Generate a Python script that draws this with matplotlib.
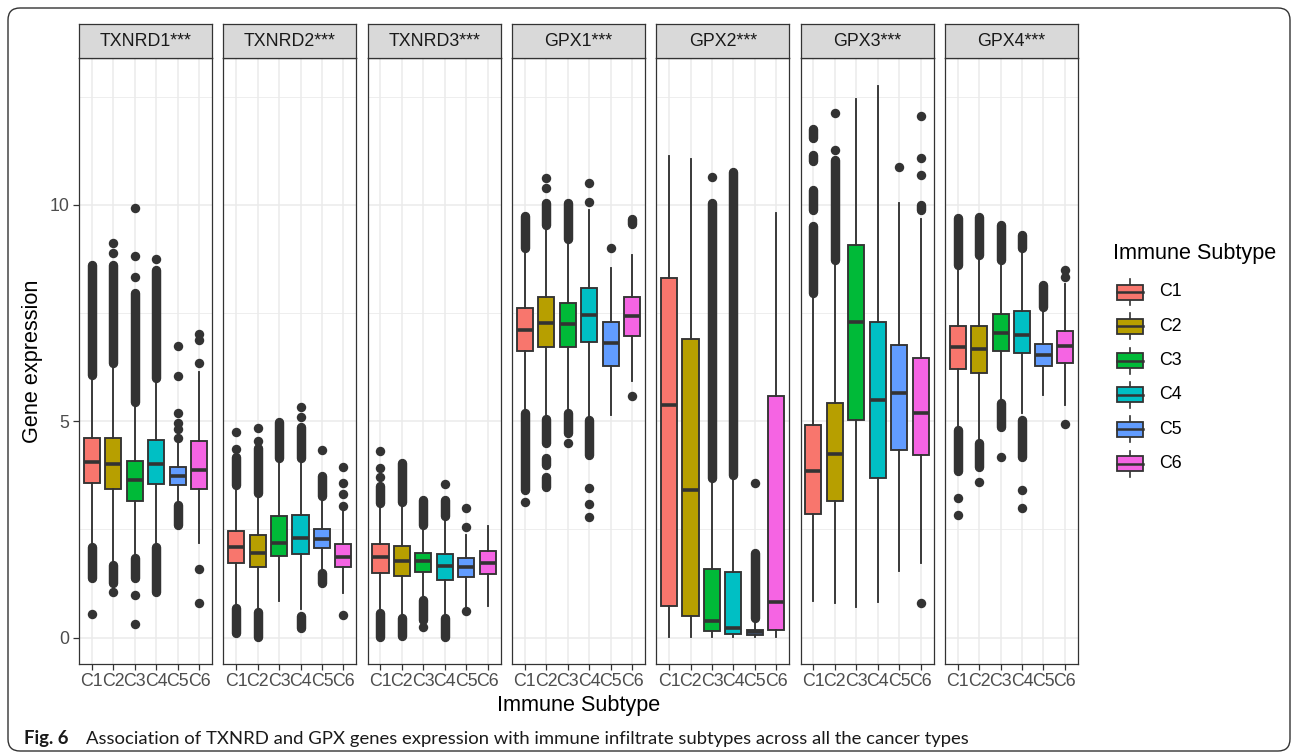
import matplotlib.pyplot as plt
import numpy as np
from matplotlib.patches import FancyBboxPatch, Rectangle

plt.rcParams['font.family'] = ['Liberation Sans', 'DejaVu Sans']

genes = ["TXNRD1***", "TXNRD2***", "TXNRD3***", "GPX1***", "GPX2***", "GPX3***", "GPX4***"]
subtypes = ["C1", "C2", "C3", "C4", "C5", "C6"]
colors = ["#F8766D", "#B79F00", "#00BA38", "#00BFC4", "#619CFF", "#F564E3"]

# box stats, one row per gene, one column per subtype
q1 = [
    [3.57, 3.43, 3.16, 3.55, 3.53, 3.43],
    [1.73, 1.64, 1.89, 1.93, 2.06, 1.62],
    [1.50, 1.43, 1.51, 1.33, 1.39, 1.47],
    [6.62, 6.72, 6.71, 6.84, 6.28, 6.97],
    [0.73, 0.51, 0.16, 0.09, 0.06, 0.18],
    [2.86, 3.16, 5.02, 3.68, 4.33, 4.22],
    [6.20, 6.11, 6.62, 6.57, 6.27, 6.35],
]
med = [
    [4.05, 4.01, 3.63, 4.00, 3.73, 3.87],
    [2.09, 1.96, 2.19, 2.30, 2.27, 1.87],
    [1.87, 1.78, 1.76, 1.66, 1.62, 1.73],
    [7.11, 7.26, 7.24, 7.45, 6.80, 7.44],
    [5.37, 3.41, 0.39, 0.22, 0.12, 0.82],
    [3.84, 4.24, 7.29, 5.50, 5.65, 5.20],
    [6.71, 6.67, 7.04, 6.99, 6.53, 6.74],
]
q3 = [
    [4.60, 4.62, 4.09, 4.57, 3.93, 4.55],
    [2.47, 2.36, 2.81, 2.83, 2.51, 2.16],
    [2.16, 2.12, 1.96, 1.93, 1.85, 1.99],
    [7.61, 7.86, 7.74, 8.07, 7.28, 7.88],
    [8.31, 6.90, 1.59, 1.52, 0.18, 5.59],
    [4.92, 5.41, 9.08, 7.30, 6.77, 6.46],
    [7.20, 7.20, 7.48, 7.54, 6.78, 7.08],
]
whis_lo = [
    [2.10, 1.68, 1.83, 2.10, 3.06, 2.19],
    [0.68, 0.60, 0.85, 0.66, 1.49, 1.04],
    [0.56, 0.45, 0.87, 0.45, 0.68, 0.73],
    [5.18, 5.04, 5.18, 5.03, 5.14, 5.93],
    [0.01, 0.01, 0.02, 0.01, 0.02, 0.01],
    [0.84, 0.81, 0.71, 0.83, 1.55, 1.72],
    [4.80, 4.49, 5.41, 5.20, 5.61, 5.37],
]
whis_hi = [
    [6.07, 6.34, 5.45, 5.99, 4.49, 6.14],
    [3.53, 3.33, 4.14, 4.14, 3.26, 2.95],
    [3.10, 3.14, 2.60, 2.81, 2.37, 2.58],
    [8.99, 9.53, 9.22, 9.88, 8.55, 8.84],
    [11.12, 11.05, 3.68, 3.76, 0.35, 9.80],
    [7.95, 8.73, 12.44, 12.74, 10.03, 9.68],
    [8.61, 8.84, 8.72, 8.99, 7.64, 8.16],
]

# single outliers
flier_points = [
    [[0.54], [8.88, 9.12, 1.05], [8.34, 8.82, 9.92, 0.99, 0.32], [8.75],
     [4.6, 4.83, 4.95, 5.2, 6.04, 6.74], [6.35, 6.87, 7.01, 1.59, 0.79]],
    [[4.35, 4.76], [4.55, 4.84], [], [5.10, 5.32], [4.33], [3.03, 3.32, 3.57, 3.93, 0.52]],
    [[3.72, 3.91, 4.32], [], [0.24], [3.54], [2.56, 2.99, 0.62], []],
    [[3.14], [10.38, 10.61], [4.49], [10.06, 10.51, 3.45, 3.08, 2.78], [9.01], [5.59]],
    [[], [], [10.65], [], [3.57], []],
    [[], [11.26, 12.11], [], [], [10.88], [10.69, 11.08, 12.05, 0.81]],
    [[3.22, 2.83], [3.60], [4.18], [3.41, 2.99], [], [8.32, 8.49, 4.93]],
]
# stretches of overlapping outliers (low, high)
flier_runs = [
    [[(6.07, 8.6), (1.37, 2.1)], [(6.34, 8.6), (1.26, 1.68)], [(5.45, 7.95), (1.37, 1.83)],
     [(5.99, 8.49), (1.06, 2.10)], [(2.6, 3.06)], []],
    [[(3.53, 4.17), (0.10, 0.68)], [(3.33, 4.37), (0.02, 0.60)], [(4.14, 4.97)],
     [(4.14, 4.87), (0.22, 0.49)], [(3.26, 3.74), (1.26, 1.49)], []],
    [[(3.10, 3.50), (0.02, 0.56)], [(3.14, 4.03), (0.04, 0.45)], [(2.60, 3.18), (0.41, 0.87)],
     [(2.81, 3.18), (0.02, 0.45)], [], []],
    [[(8.99, 9.74), (3.41, 5.18)], [(9.53, 10.03), (4.49, 5.04), (3.99, 4.14), (3.49, 3.72)],
     [(9.22, 10.03), (4.72, 5.18)], [(4.22, 5.03)], [], [(9.55, 9.66)]],
    [[], [], [(3.68, 10.05)], [(3.76, 10.76)], [(0.45, 1.96)], []],
    [[(7.95, 9.51), (9.89, 10.34), (11.0, 11.16), (11.54, 11.74)], [(8.73, 11.04)], [], [], [],
     [(9.89, 10.0)]],
    [[(8.61, 9.69), (3.84, 4.80)], [(8.84, 9.72), (3.95, 4.49)], [(8.72, 9.53), (4.87, 5.41)],
     [(8.99, 9.30), (4.18, 5.03)], [(7.64, 8.15)], []],
]

W, H = 1293, 754
fig = plt.figure(figsize=(W / 100, H / 100), dpi=100)


def fr(x, y, w, h):
    return [x / W, 1 - (y + h) / H, w / W, h / H]


dark = '#333333'
dot = 6.8
pos = np.arange(1, 7)

for i, g in enumerate(genes):
    left = 79 + i * 144.3
    ax = fig.add_axes(fr(left, 58, 133, 606))
    ax.set_xlim(0.4, 6.6)
    ax.set_ylim(-0.61, 13.39)
    ax.set_axisbelow(True)
    ax.set_yticks([0, 5, 10])
    ax.set_yticks([2.5, 7.5, 12.5], minor=True)
    ax.grid(which='major', color='#EBEBEB', lw=1.1)
    ax.grid(which='minor', axis='y', color='#EBEBEB', lw=0.6)
    ax.tick_params(which='minor', length=0)

    stats = []
    for j in range(6):
        stats.append(dict(med=med[i][j], q1=q1[i][j], q3=q3[i][j],
                          whislo=whis_lo[i][j], whishi=whis_hi[i][j],
                          fliers=flier_points[i][j]))
    bp = ax.bxp(stats, positions=pos, widths=0.75, patch_artist=True, showcaps=False,
                boxprops=dict(edgecolor=dark, lw=1.35),
                whiskerprops=dict(color=dark, lw=1.35),
                medianprops=dict(color=dark, lw=2.6),
                flierprops=dict(marker='o', markerfacecolor=dark, markeredgecolor='none',
                                markersize=dot))
    for patch, c in zip(bp['boxes'], colors):
        patch.set_facecolor(c)
    for j in range(6):
        runs = flier_runs[i][j]
        if runs:
            ax.vlines([pos[j]] * len(runs), [r[0] for r in runs], [r[1] for r in runs],
                      colors=dark, lw=dot, capstyle='round', zorder=3)

    ax.set_xticks(pos)
    ax.set_xticklabels(subtypes)
    ax.tick_params(axis='both', which='major', length=4.3, width=0.9, color=dark,
                   labelsize=12.8, labelcolor='#4D4D4D', pad=2.5)
    if i > 0:
        ax.tick_params(axis='y', which='both', left=False, labelleft=False)
    for s in ax.spines.values():
        s.set_color(dark)
        s.set_linewidth(0.9)

    st = fig.add_axes(fr(left, 24, 133, 34))
    st.set_facecolor('#D9D9D9')
    st.set_xticks([])
    st.set_yticks([])
    for s in st.spines.values():
        s.set_color(dark)
        s.set_linewidth(0.9)
    st.text(0.5, 0.5, g, ha='center', va='center', fontsize=12.8, color='#1A1A1A',
            transform=st.transAxes)

ov = fig.add_axes([0, 0, 1, 1], zorder=-1)
ov.set_xlim(0, W)
ov.set_ylim(H, 0)
ov.axis('off')

ov.add_patch(FancyBboxPatch((8, 8), 1282, 743, boxstyle="round,pad=0,rounding_size=12",
                            fill=False, ec=dark, lw=1.0))

ov.text(579, 705, "Immune Subtype", ha='center', va='center', fontsize=15.6, color='black')
ov.text(33, 361, "Gene expression", ha='center', va='center', rotation=90, fontsize=15.6,
        color='black')

# legend
ov.text(1113, 254, "Immune Subtype", ha='left', va='center', fontsize=15.6, color='black')
for k, (lab, c) in enumerate(zip(subtypes, colors)):
    cy = 292 + k * 34.3
    ov.plot([1130, 1130], [cy - 13, cy + 13], color=dark, lw=1.2)
    ov.add_patch(Rectangle((1117, cy - 7.5), 26, 15, facecolor=c, edgecolor=dark, lw=1.3,
                           zorder=3))
    ov.plot([1117, 1143], [cy, cy], color=dark, lw=1.8, zorder=4)
    ov.text(1159, cy, lab, ha='left', va='center', fontsize=12.8, color='black')

ov.text(24, 744, "Fig. 6", ha='left', va='baseline', fontsize=13.3, fontweight='bold',
        family=['Lato', 'DejaVu Sans'], color='#1A1A1A')
ov.text(86, 744, "Association of TXNRD and GPX genes expression with immune infiltrate "
        "subtypes across all the cancer types", ha='left', va='baseline', fontsize=13.3,
        family=['Lato', 'DejaVu Sans'], color='#1A1A1A')

fig.savefig('out.png', dpi=100)
